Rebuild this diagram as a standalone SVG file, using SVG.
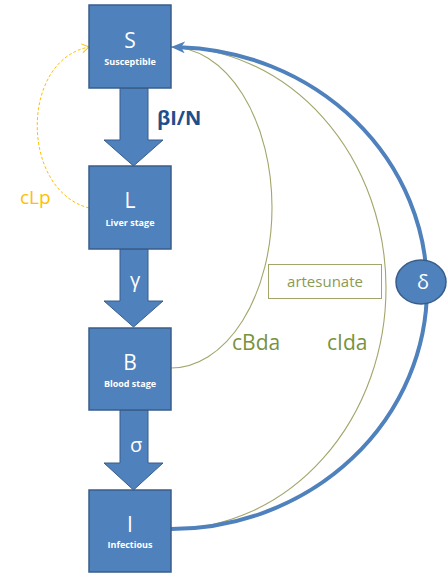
<svg xmlns="http://www.w3.org/2000/svg" width="447" height="578" viewBox="0 0 447 578">
  <style>
    .box { fill: #4F81BD; stroke: #385D8A; stroke-width: 1.5; }
    .flow { fill: #4F81BD; stroke: #385D8A; stroke-width: 1; }
    .big { font-family: "Open Sans", "Liberation Sans", sans-serif; font-size: 21px; fill: #FFFFFF; text-anchor: middle; }
    .small { font-family: "Open Sans", "Liberation Sans", sans-serif; font-size: 9px; font-weight: bold; fill: #FFFFFF; text-anchor: middle; }
    .rate { font-family: "Open Sans", "Liberation Sans", sans-serif; font-size: 20px; fill: #FFFFFF; text-anchor: middle; }
    .drug { fill: none; stroke: #A3A66A; stroke-width: 1.1; }
    .druglabel { font-family: "Open Sans", "Liberation Sans", sans-serif; font-size: 21px; fill: #77933C; }
    .relapse { fill: none; stroke: #FFC000; stroke-width: 1; stroke-dasharray: 3 2; }
  </style>
  <defs>
    <marker id="blueHead" viewBox="0 0 14 12" refX="5" refY="6" markerWidth="14" markerHeight="12" markerUnits="userSpaceOnUse" orient="auto">
      <path d="M0,6 L14,0 L10,6 L14,12 Z" fill="#4F81BD" transform="rotate(180 7 6)"/>
    </marker>
    <marker id="yellowHead" viewBox="0 0 8 10" refX="7.5" refY="5" markerWidth="8" markerHeight="10" markerUnits="userSpaceOnUse" orient="auto">
      <path d="M0.5,0.5 L7.5,5 L0.5,9.5" fill="none" stroke="#FFC000" stroke-width="1"/>
    </marker>
  </defs>

  <!-- connectors -->
  <g id="connectors">
    <!-- relapse from liver stage back to susceptible -->
    <path class="relapse" d="M89,208 C20,190 20,60 89,47" marker-end="url(#yellowHead)"/>
    <!-- drug recovery from blood stage -->
    <path class="drug" d="M171,368 A101,160.5 0 0 0 272,207.5 A101,160.5 0 0 0 171,47"/>
    <!-- drug recovery from infectious -->
    <path class="drug" d="M171,529 A215,241 0 0 0 386,288 A215,241 0 0 0 171,47"/>
    <!-- natural recovery -->
    <path d="M171,529 A256,241 0 0 0 427,288 A256,241 0 0 0 180,47.2" fill="none" stroke="#4F81BD" stroke-width="4" marker-end="url(#blueHead)"/>
    <!-- progression arrows -->
    <polygon class="flow" points="120,88 148,88 148,140 163,140 133.5,166 104,140 120,140"/>
    <polygon class="flow" points="120,249 148,249 148,301 163,301 133.5,327 104,301 120,301"/>
    <polygon class="flow" points="120,410 148,410 148,463 163,463 133.5,490 104,463 120,463"/>
    <text x="157" y="125" font-family="'Open Sans', 'Liberation Sans', sans-serif" font-size="20" font-weight="bold" fill="#1F4E8C">βI/N</text>
    <text class="rate" x="135" y="287">γ</text>
    <text class="rate" x="136" y="452">σ</text>
    <text x="20" y="204" font-family="'Open Sans', 'Liberation Sans', sans-serif" font-size="19" fill="#FFC000">cLp</text>
    <text class="druglabel" x="232" y="350">cBda</text>
    <text class="druglabel" x="327" y="350">cIda</text>
  </g>

  <g id="node-artesunate">
    <rect x="268.5" y="264.5" width="113" height="34" fill="#FFFFFF" stroke="#A3A66A" stroke-width="1"/>
    <text x="325" y="287" font-family="'Open Sans', 'Liberation Sans', sans-serif" font-size="15" fill="#8A9A55" text-anchor="middle">artesunate</text>
  </g>

  <g id="node-delta">
    <ellipse cx="421" cy="282" rx="25" ry="22" fill="#4F81BD" stroke="#385D8A" stroke-width="1.5"/>
    <text class="rate" x="423" y="289">δ</text>
  </g>

  <g id="node-S">
    <rect class="box" x="89" y="5" width="82" height="83"/>
    <text class="big" x="130" y="48">S</text>
    <text class="small" x="130" y="65">Susceptible</text>
  </g>

  <g id="node-L">
    <rect class="box" x="89" y="166" width="82" height="83"/>
    <text class="big" x="130" y="208">L</text>
    <text class="small" x="130" y="226">Liver stage</text>
  </g>

  <g id="node-B">
    <rect class="box" x="89" y="328" width="82" height="82"/>
    <text class="big" x="130" y="370">B</text>
    <text class="small" x="130" y="387">Blood stage</text>
  </g>

  <g id="node-I">
    <rect class="box" x="89" y="490" width="82" height="82"/>
    <text class="big" x="130" y="532">I</text>
    <text class="small" x="130" y="548">Infectious</text>
  </g>
</svg>
